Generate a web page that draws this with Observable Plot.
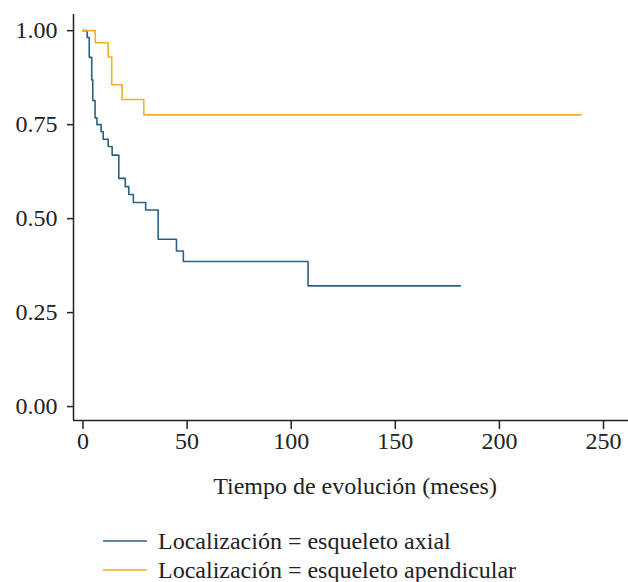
<!DOCTYPE html>
<html>
<head>
<meta charset="utf-8">
<script src="https://cdn.jsdelivr.net/npm/d3@7"></script>
<script src="https://cdn.jsdelivr.net/npm/@observablehq/plot@0.6"></script>
<style>
  body { margin: 0; background: #fff; font-family: "Liberation Serif", Tinos, "Times New Roman", Times, serif; }
  #legend { position: relative; height: 72px; color: #222; font-size: 24px; }
  .row { position: absolute; left: 103px; display: flex; align-items: center; line-height: 28px; }
  .row svg { margin-right: 11px; }
</style>
</head>
<body>
<div id="chart"></div>
<div id="legend"></div>
<script>
// Kaplan-Meier steps (time in months, survival)
const axialTime = [0, 2.0, 3.0, 4.2, 4.7, 5.8, 6.7, 8.7, 9.7, 12.1, 14.0, 17.2, 20.3, 22.0, 24.2, 30.1, 36.1, 44.9, 48.2, 108.1, 181.2];
const axialSurv = [1.0, 0.982, 0.929, 0.869, 0.814, 0.768, 0.75, 0.731, 0.711, 0.692, 0.669, 0.607, 0.585, 0.564, 0.543, 0.523, 0.445, 0.414, 0.386, 0.321, 0.321];
const apendTime = [0, 5.9, 12.1, 13.8, 18.8, 29.2, 239.3];
const apendSurv = [1.0, 0.968, 0.930, 0.856, 0.817, 0.776, 0.776];

const groups = ["Localización = esqueleto axial", "Localización = esqueleto apendicular"];
const colors = ["#2b6185", "#f7ad28"];
const xTicks = [0, 50, 100, 150, 200, 250];
const yTicks = [0, 0.25, 0.5, 0.75, 1.0];
const xLabel = "Tiempo de evolución (meses)";

const data = [
  ...axialTime.map((t, i) => ({t, s: axialSurv[i], g: groups[0]})),
  ...apendTime.map((t, i) => ({t, s: apendSurv[i], g: groups[1]}))
];

const FONT = '"Liberation Serif", Tinos, "Times New Roman", Times, serif';
const H = 512;
const xDom = [-4.56, 262.0];
const yDom = [-0.037, 1.043];

const chart = Plot.plot({
  width: 628,
  height: H,
  marginLeft: 73,
  marginRight: 0,
  marginTop: 14,
  marginBottom: H - 420,
  style: { fontFamily: FONT, fontSize: "24px", color: "#222", background: "#fff" },
  x: { domain: xDom },
  y: { domain: yDom },
  color: { domain: groups, range: colors },
  marks: [
    Plot.axisX({ ticks: xTicks, tickFormat: d3.format("d"), tickSize: 9, tickPadding: 2, label: null, stroke: "#222", strokeWidth: 1.5, fontFamily: FONT, fontSize: 24 }),
    Plot.axisY({ ticks: yTicks, tickFormat: d3.format(".2f"), tickSize: 6, tickPadding: 10, label: null, stroke: "#222", strokeWidth: 1.5, fontFamily: FONT, fontSize: 24 }),
    Plot.ruleY([yDom[0]], { stroke: "#222", strokeWidth: 1.5 }),
    Plot.ruleX([xDom[0]], { stroke: "#222", strokeWidth: 1.5 }),
    Plot.line(data, { x: "t", y: "s", z: "g", stroke: "g", curve: "step-after", strokeWidth: 1.6 }),
    Plot.text([xLabel], { frameAnchor: "bottom", dy: 73, dx: 4, fontSize: 24, fontFamily: FONT, fill: "#222" })
  ]
});
document.getElementById("chart").appendChild(chart);

const legend = document.getElementById("legend");
groups.forEach((g, i) => {
  const row = document.createElement("div");
  row.className = "row";
  row.style.top = (541 - H - 14 + i * 29) + "px";
  row.innerHTML = `<svg width="44" height="4"><line x1="0" x2="44" y1="2" y2="2" stroke="${colors[i]}" stroke-width="1.5"/></svg><span>${g}</span>`;
  legend.appendChild(row);
});
</script>
</body>
</html>
